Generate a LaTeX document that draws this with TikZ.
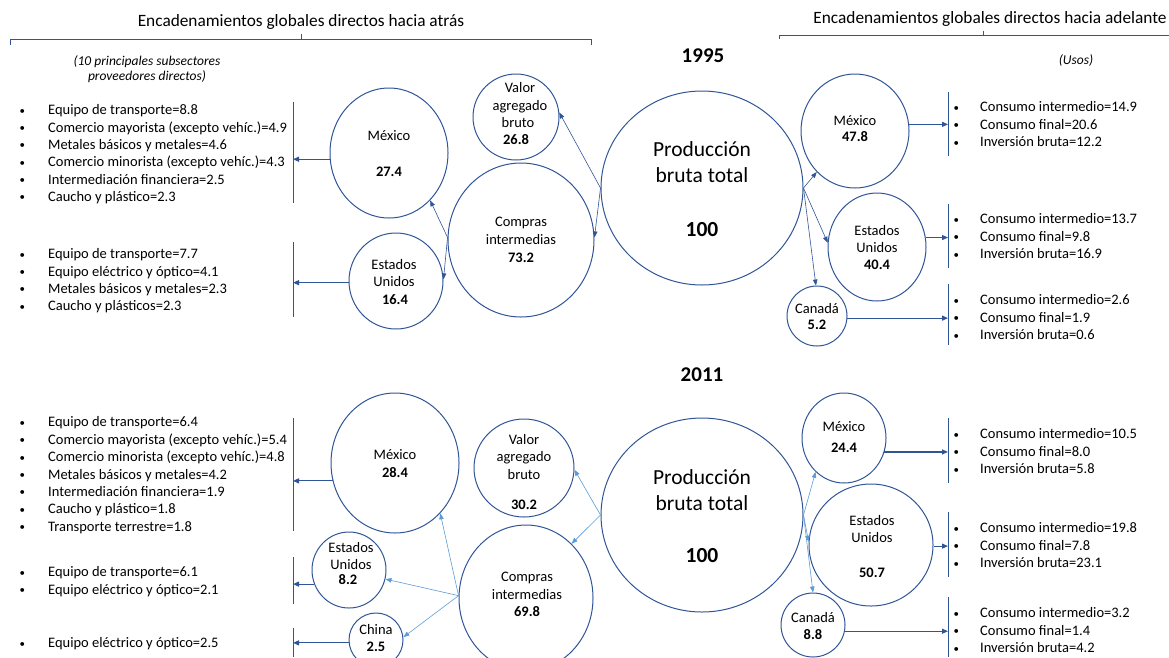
\documentclass[tikz,border=0pt]{standalone}
\usepackage{fontspec}
\setmainfont{Carlito}
\usetikzlibrary{arrows.meta,shapes.geometric}
\definecolor{dblue}{HTML}{2F5597}
\definecolor{lblue}{HTML}{5B9BD5}
\newcommand\circnode[5]{\node[circ, minimum width=#4pt, minimum height=#5pt] (#1) at (#2,#3) {};}
\newcommand\blist[6]{%
  \foreach \t [count=\i from 0] in {#6}{%
    \node[listitem] (#1-\i) at (#2, #3+#4*\i+4.8) {\makebox[#5pt][l]{\raisebox{0.6pt}{\scalebox{0.75}{\textbullet}}}\t};}}
\begin{document}
\begin{tikzpicture}[x=1pt,y=-1pt,
  circ/.style={ellipse, draw=dblue, line width=1pt, inner sep=0pt},
  lab/.style={anchor=base, inner sep=0pt, font=\fontsize{14.5}{17.4}\selectfont},
  num/.style={lab, font=\fontsize{14.5}{17.4}\selectfont\bfseries},
  big/.style={anchor=base, inner sep=0pt, font=\fontsize{21.5}{26}\selectfont},
  bignum/.style={big, font=\fontsize{21.5}{26}\selectfont\bfseries},
  listitem/.style={anchor=base west, inner sep=0pt, font=\fontsize{14.5}{17.4}\selectfont},
  head/.style={inner sep=0pt, font=\fontsize{17.3}{20}\selectfont},
  note/.style={inner sep=0pt, align=center, font=\fontsize{13.5}{15.5}\selectfont\itshape},
  year/.style={inner sep=0pt, font=\fontsize{21}{24}\selectfont\bfseries},
  brk/.style={draw=dblue, line width=0.9pt},
  vline/.style={draw=dblue, line width=1pt},
  barr/.style={draw=dblue, line width=1.2pt, -{Triangle[length=6pt,width=5pt]}},
  tarr/.style={draw=dblue, line width=0.6pt, -{Triangle[length=6pt,width=4.5pt]}},
  larr/.style={draw=lblue, line width=0.6pt, -{Triangle[length=6pt,width=4.5pt]}}]
\useasboundingbox (0,0) rectangle (1169,657);

% headings and brackets
\node[head] (hl) at (301,22) {Encadenamientos globales directos hacia atrás};
\node[head] (hr) at (990,19) {Encadenamientos globales directos hacia adelante};
\draw[brk] (10,45) -- (10,39) -- (591,39) -- (591,45);
\draw[brk] (301,39) -- (301,34);
\draw[brk] (779,39) -- (779,35) -- (1169,35);
\draw[brk] (983,35) -- (983,31);
\node[note] (nl) at (147,69) {(10 principales subsectores\\ proveedores directos)};
\node[note] (nr) at (1076,60) {(Usos)};
\node[year] (y1) at (703,56) {1995};
\node[year] (y2) at (702,375) {2011};

% ===== 1995 =====
\circnode{P1}{702}{188}{202}{194}
\circnode{V1}{516}{117}{86}{86}
\circnode{C1}{521}{240}{146}{154}
\circnode{M1}{389}{153}{118}{130}
\circnode{U1}{396}{281}{94}{96}
\circnode{MR1}{855}{131}{108}{114}
\circnode{UR1}{877}{247}{98}{108}
\circnode{CR1}{817}{316}{60}{60}

\node[big] (P1a) at (702,156) {Producción};
\node[big] (P1b) at (702,182) {bruta total};
\node[bignum] (P1c) at (702,236) {100};
\node[lab] (V1a) at (520,92.8) {Valor};
\node[lab] (V1b) at (520,110.8) {agregado};
\node[lab] (V1c) at (518,127.8) {bruto};
\node[num] (V1d) at (516,144.8) {26.8};
\node[lab] (C1a) at (521,226.8) {Compras};
\node[lab] (C1b) at (521,244.8) {intermedias};
\node[num] (C1c) at (521,262.8) {73.2};
\node[lab] (M1a) at (389,140.8) {México};
\node[num] (M1b) at (389,176.8) {27.4};
\node[lab] (U1a) at (394,269.8) {Estados};
\node[lab] (U1b) at (394,286.8) {Unidos};
\node[num] (U1c) at (395,304.8) {16.4};
\node[lab] (MR1a) at (855,125.8) {México};
\node[num] (MR1b) at (855,141.8) {47.8};
\node[lab] (UR1a) at (877,235.8) {Estados};
\node[lab] (UR1b) at (877,252.8) {Unidos};
\node[num] (UR1c) at (877,269.8) {40.4};
\node[lab] (CR1a) at (817,313.8) {Canadá};
\node[num] (CR1b) at (817,329.8) {5.2};

\draw[tarr] (P1.west) -- (V1.6);
\draw[tarr] (P1.west) -- (C1.2);
\draw[tarr] (C1.178) -- (M1.-49);
\draw[tarr] (C1.178) -- (U1.2);
\draw[tarr] (P1.east) -- (MR1.227);
\draw[tarr] (P1.east) -- (UR1.175);
\draw[tarr] (P1.east) -- (CR1.92);

\coordinate (b1m) at (293,102); \coordinate (b1mb) at (293,203);
\coordinate (b1u) at (293,242); \coordinate (b1ub) at (293,317);
\coordinate (r1m) at (948,92);  \coordinate (r1mb) at (948,156);
\coordinate (r1u) at (948,204); \coordinate (r1ub) at (948,268);
\coordinate (r1c) at (948,284); \coordinate (r1cb) at (948,345);
\draw[vline] (b1m) -- (b1mb);
\draw[vline] (b1u) -- (b1ub);
\draw[vline] (r1m) -- (r1mb);
\draw[vline] (r1u) -- (r1ub);
\draw[vline] (r1c) -- (r1cb);
\draw[barr] (M1.186) -- (M1.186 -| b1m);
\draw[barr] (U1.182) -- (U1.182 -| b1u);
\draw[barr] (MR1.7) -- (MR1.7 -| r1m);
\draw[barr] (UR1.11) -- (UR1.11 -| r1u);
\draw[barr] (CR1.-4) -- (CR1.-4 -| r1c);

\blist{l1m}{19.5}{110}{17.3}{28.5}{Equipo de transporte=8.8,Comercio mayorista (excepto vehíc.)=4.9,Metales básicos y metales=4.6,Comercio minorista (excepto vehíc.)=4.3,Intermediación financiera=2.5,Caucho y plástico=2.3}
\blist{l1u}{19.5}{254}{17.3}{28.5}{Equipo de transporte=7.7,Equipo eléctrico y óptico=4.1,Metales básicos y metales=2.3,Caucho y plásticos=2.3}
\blist{r1mx}{953.5}{107}{17.5}{26.5}{Consumo intermedio=14.9,Consumo final=20.6,Inversión bruta=12.2}
\blist{r1ux}{953.5}{219}{17.5}{26.5}{Consumo intermedio=13.7,Consumo final=9.8,Inversión bruta=16.9}
\blist{r1cx}{953.5}{300}{17.5}{26.5}{Consumo intermedio=2.6,Consumo final=1.9,Inversión bruta=0.6}

% ===== 2011 =====
\circnode{P2}{702}{515}{202}{194}
\circnode{V2}{524}{468}{100}{98}
\circnode{C2}{526}{598}{134}{146}
\circnode{M2}{395}{463}{128}{140}
\circnode{U2}{349}{570}{74}{76}
\circnode{Ch2}{376}{640}{54}{54}
\circnode{MR2}{844}{438}{84}{90}
\circnode{UR2}{871}{545}{124}{122}
\circnode{CR2}{813}{625}{64}{64}

\node[big] (P2a) at (702,484) {Producción};
\node[big] (P2b) at (702,510) {bruta total};
\node[bignum] (P2c) at (702,562) {100};
\node[lab] (V2a) at (524,444.8) {Valor};
\node[lab] (V2b) at (524,461.8) {agregado};
\node[lab] (V2c) at (524,479.8) {bruto};
\node[num] (V2d) at (524,509.8) {30.2};
\node[lab] (C2a) at (527,581.8) {Compras};
\node[lab] (C2b) at (527,599.8) {intermedias};
\node[num] (C2c) at (527,616.8) {69.8};
\node[lab] (M2a) at (395,459.8) {México};
\node[num] (M2b) at (395,477.8) {28.4};
\node[lab] (U2a) at (351,552.8) {Estados};
\node[lab] (U2b) at (351,569.8) {Unidos};
\node[num] (U2c) at (348,584.8) {8.2};
\node[lab] (Ch2a) at (376,634.8) {China};
\node[num] (Ch2b) at (376,651.8) {2.5};
\node[lab] (MR2a) at (844,431.8) {México};
\node[num] (MR2b) at (844,452.8) {24.4};
\node[lab] (UR2a) at (872,525.8) {Estados};
\node[lab] (UR2b) at (872,542.8) {Unidos};
\node[num] (UR2c) at (872,577.8) {50.7};
\node[lab] (CR2a) at (813,622.8) {Canadá};
\node[num] (CR2b) at (813,639.8) {8.8};

\draw[larr] (P2.west) -- (V2.-2);
\draw[larr] (P2.west) -- (C2.50);
\draw[larr] (C2.178) -- (M2.-48);
\draw[larr] (C2.178) -- (U2.-14);
\draw[larr] (C2.178) -- (Ch2.6);
\draw[larr] (P2.east) -- (MR2.230);
\draw[larr] (P2.east) -- (UR2.177);
\draw[larr] (P2.east) -- (CR2.90);

\coordinate (b2m) at (293,418); \coordinate (b2mb) at (293,531);
\coordinate (b2u) at (293,557); \coordinate (b2ub) at (293,604);
\coordinate (b2c) at (293,628); \coordinate (b2cb) at (293,657);
\coordinate (r2m) at (948,418); \coordinate (r2mb) at (948,483);
\coordinate (r2u) at (948,512); \coordinate (r2ub) at (948,577);
\coordinate (r2c) at (948,597); \coordinate (r2cb) at (948,657);
\draw[vline] (b2m) -- (b2mb);
\draw[vline] (b2u) -- (b2ub);
\draw[vline] (b2c) -- (b2cb);
\draw[vline] (r2m) -- (r2mb);
\draw[vline] (r2u) -- (r2ub);
\draw[vline] (r2c) -- (r2cb);
\draw[barr] (M2.196) -- (M2.196 -| b2m);
\draw[barr] (U2.202) -- (U2.202 -| b2u);
\draw[barr] (Ch2.186) -- (Ch2.186 -| b2c);
\draw[barr] (MR2.-19) -- (MR2.-19 -| r2m);
\draw[barr] (UR2.-1) -- (UR2.-1 -| r2u);
\draw[barr] (CR2.-11) -- (CR2.-11 -| r2c);

\blist{l2m}{19.5}{422}{17.4}{28.5}{Equipo de transporte=6.4,Comercio mayorista (excepto vehíc.)=5.4,Comercio minorista (excepto vehíc.)=4.8,Metales básicos y metales=4.2,Intermediación financiera=1.9,Caucho y plástico=1.8,Transporte terrestre=1.8}
\blist{l2u}{19.5}{572}{17.5}{28.5}{Equipo de transporte=6.1,Equipo eléctrico y óptico=2.1}
\blist{l2c}{19.5}{643}{17.5}{28.5}{Equipo eléctrico y óptico=2.5}
\blist{r2mx}{953.5}{434}{17.5}{26.5}{Consumo intermedio=10.5,Consumo final=8.0,Inversión bruta=5.8}
\blist{r2ux}{953.5}{528}{17.5}{26.5}{Consumo intermedio=19.8,Consumo final=7.8,Inversión bruta=23.1}
\blist{r2cx}{953.5}{613}{17.5}{26.5}{Consumo intermedio=3.2,Consumo final=1.4,Inversión bruta=4.2}
\end{tikzpicture}
\end{document}
